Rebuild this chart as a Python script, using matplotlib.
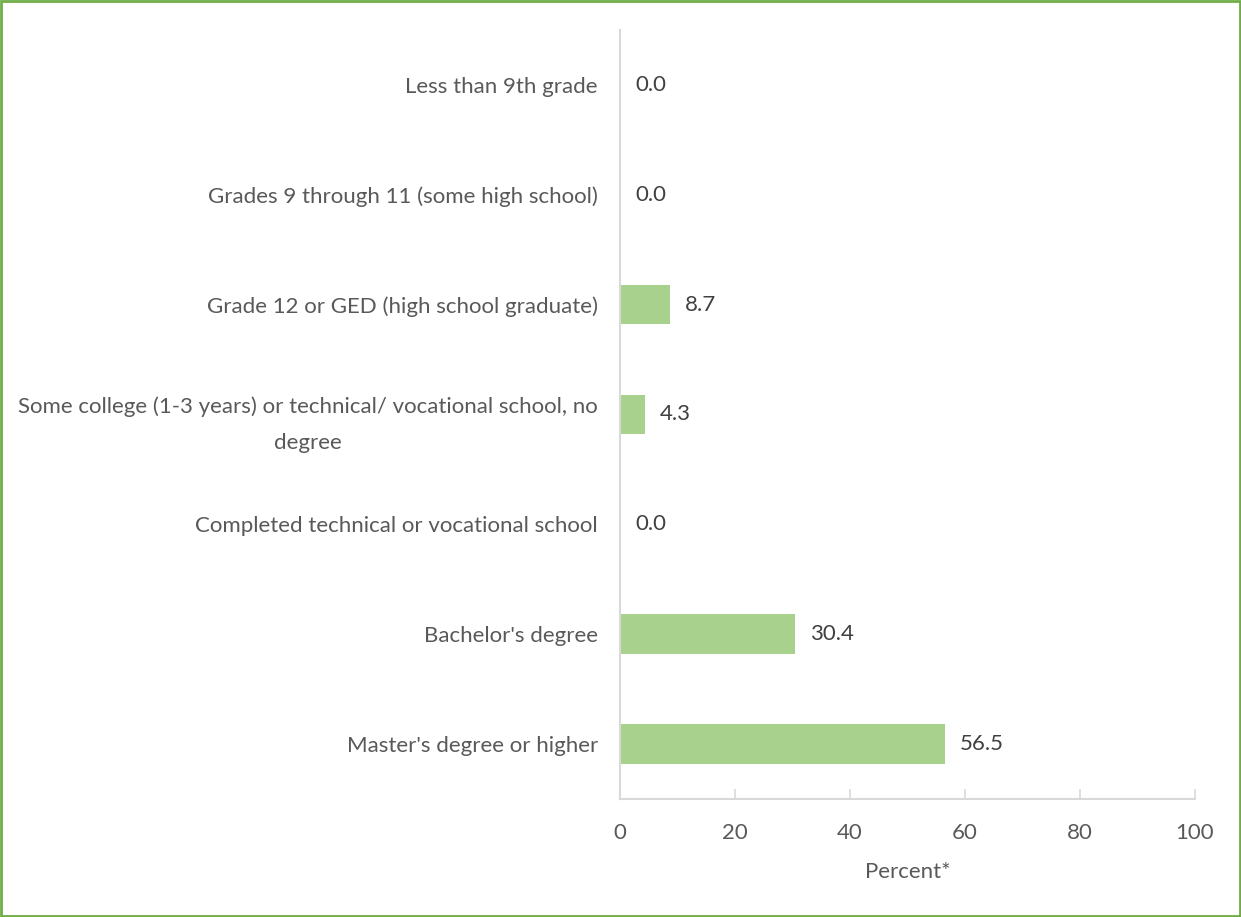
import matplotlib.pyplot as plt
from matplotlib.patches import Rectangle

categories = [
    "Less than 9th grade",
    "Grades 9 through 11 (some high school)",
    "Grade 12 or GED (high school graduate)",
    "Some college (1-3 years) or technical/ vocational school, no\ndegree",
    "Completed technical or vocational school",
    "Bachelor's degree",
    "Master's degree or higher",
]
values = [0.0, 0.0, 8.7, 4.3, 0.0, 30.4, 56.5]
xticks = [0, 20, 40, 60, 80, 100]

plt.rcParams['font.family'] = ['Lato', 'DejaVu Sans']
text_color = '#595959'
axis_color = '#d9d9d9'
fs = 16

fig = plt.figure(figsize=(12.41, 9.17), dpi=100)
ax = fig.add_axes([620 / 1241, 1 - 799 / 917, 575 / 1241, 769 / 917])

pos = list(range(len(categories)))
ax.barh(pos, values, height=0.36, color='#a9d18e')
for p, v in zip(pos, values):
    ax.annotate(f"{v:.1f}", (v, p), xytext=(11, 0), textcoords='offset points',
                ha='left', va='center', fontsize=fs, color='#404040')

ax.set_ylim(len(categories) - 0.5, -0.5)
ax.set_xlim(0, 100)
ax.set_yticks(pos)
ax.set_yticklabels(categories, fontsize=fs, color=text_color)
for lbl in ax.get_yticklabels():
    lbl.set_multialignment('center')
    lbl.set_linespacing(2.0)
ax.tick_params(axis='y', length=0, pad=16)
ax.set_xticks(xticks)
ax.set_xticklabels([str(t) for t in xticks], fontsize=fs, color=text_color)
ax.tick_params(axis='x', direction='in', length=7, width=1.2, color=axis_color, pad=17)
ax.set_xlabel("Percent*", fontsize=fs, color=text_color, labelpad=14)

for s in ['top', 'right']:
    ax.spines[s].set_visible(False)
for s in ['left', 'bottom']:
    ax.spines[s].set_color(axis_color)
    ax.spines[s].set_linewidth(1.5)

fig.patches.append(Rectangle((0.001, 0.001), 0.998, 0.998, transform=fig.transFigure,
                             fill=False, edgecolor='#70ad47', linewidth=2))

fig.savefig('out.png', dpi=100)
